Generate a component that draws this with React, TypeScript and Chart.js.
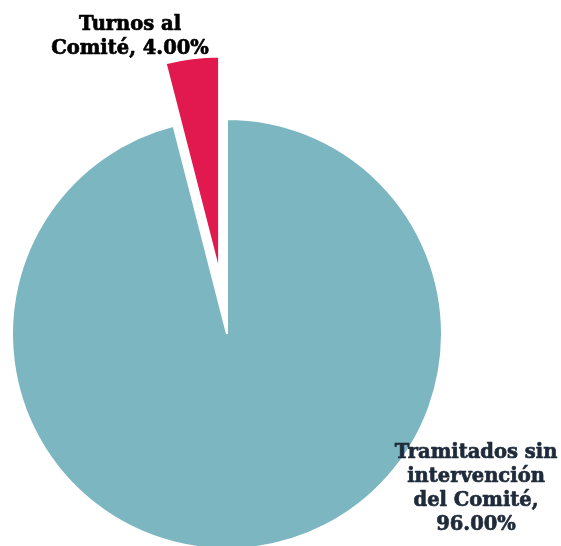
import React, { useEffect, useRef } from 'react';
import { Chart, registerables } from 'chart.js';

Chart.register(...registerables);

// ---- data ----
const categories = ['Tramitados sin intervención del Comité', 'Turnos al Comité'];
const values = [96, 4];
const sliceColors = ['#7BB6C1', '#E1194E'];
const explode = [0, 63];
const labelLines = [
  ['Tramitados sin', 'intervención', 'del Comité,', `${values[0].toFixed(2)}%`],
  ['Turnos al', `Comité, ${values[1].toFixed(2)}%`],
];
const labelColors = ['#1F2B3A', '#000000'];
const labelAnchors = [
  [476, 453],
  [130, 25],
];

const explodePlugin = {
  id: 'explodeSlices',
  afterDatasetUpdate(chart: any, args: any) {
    const meta = args.meta;
    meta.data.forEach((arc: any, i: number) => {
      const d = explode[i];
      if (!d) return;
      const mid = (arc.startAngle + arc.endAngle) / 2;
      arc.x += Math.cos(mid) * d;
      arc.y += Math.sin(mid) * d;
    });
  },
};

const labelPlugin = {
  id: 'sliceLabels',
  afterDatasetsDraw(chart: any) {
    const ctx = chart.ctx;
    ctx.save();
    ctx.font = 'bold 19.5px "DejaVu Serif"';
    ctx.textAlign = 'center';
    ctx.textBaseline = 'middle';
    ctx.lineWidth = 0.7;
    ctx.lineJoin = 'round';
    labelLines.forEach((lines, i) => {
      ctx.fillStyle = labelColors[i];
      ctx.strokeStyle = labelColors[i];
      const [x, y] = labelAnchors[i];
      lines.forEach((line, j) => {
        ctx.fillText(line, x, y + j * 24);
        ctx.strokeText(line, x, y + j * 24);
      });
    });
    ctx.restore();
  },
};

export default function App() {
  const ref = useRef<HTMLCanvasElement>(null);
  useEffect(() => {
    if (!ref.current) return;
    const chart = new Chart(ref.current, {
      type: 'pie',
      data: {
        labels: categories,
        datasets: [
          {
            data: values,
            backgroundColor: sliceColors,
            borderColor: '#ffffff',
            borderWidth: 2,
            radius: 215,
          } as any,
        ],
      },
      options: {
        responsive: false,
        animation: false,
        layout: { padding: { top: 122, right: 107, left: 0, bottom: 0 } },
        plugins: {
          legend: { display: false },
          tooltip: { enabled: false },
        },
      },
      plugins: [explodePlugin, labelPlugin],
    });
    return () => chart.destroy();
  }, []);
  return (
    <div style={{ position: 'absolute', left: 0, top: 0, width: 561, height: 546, background: '#fff' }}>
      <canvas ref={ref} width={561} height={546} />
    </div>
  );
}
